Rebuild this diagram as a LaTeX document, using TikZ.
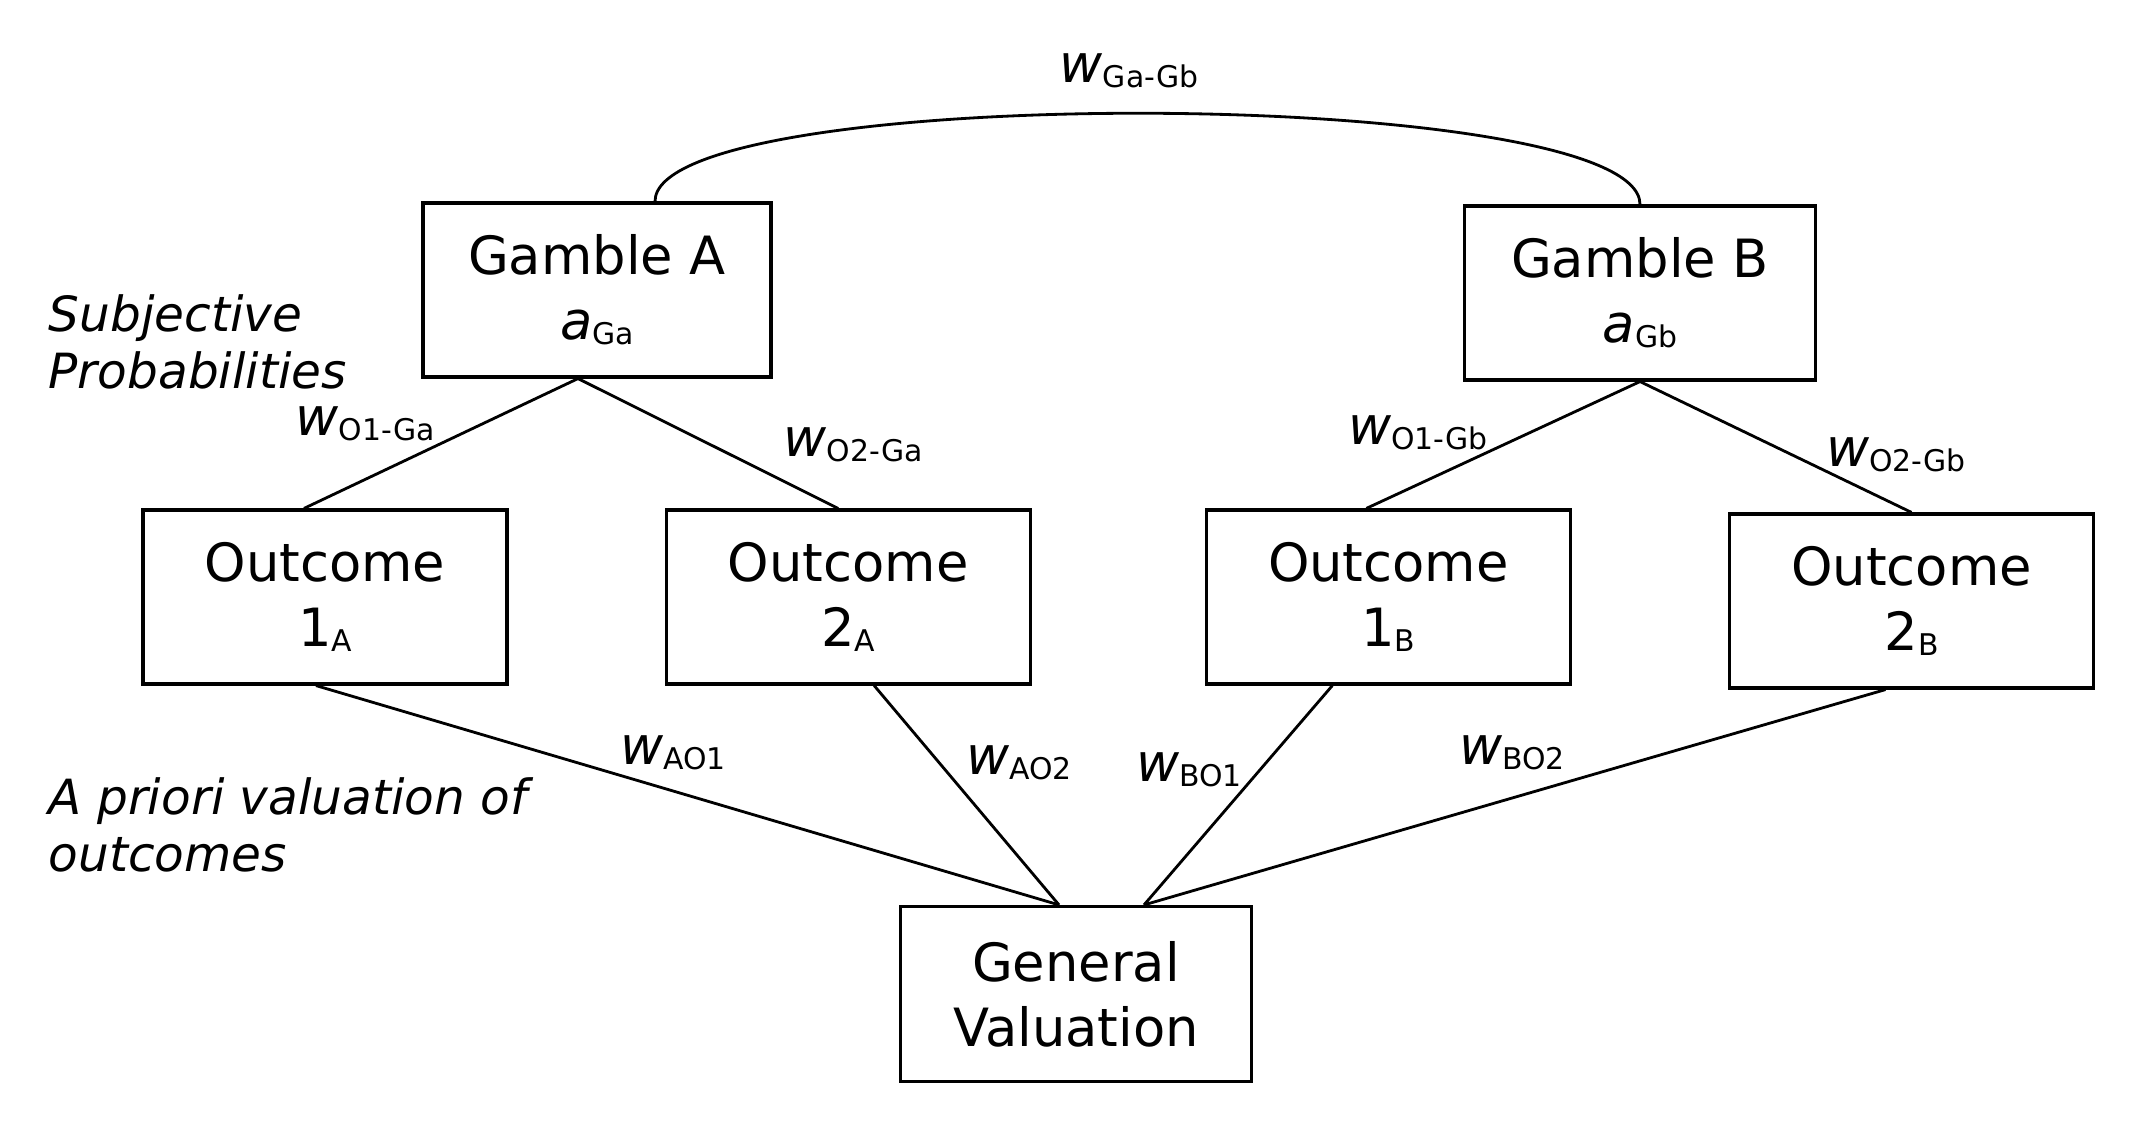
\documentclass[tikz,border=0pt]{standalone}
\usepackage{fontspec}
\setmainfont{DejaVu Sans}
\usepackage{tikz}
\usetikzlibrary{positioning}

\newcommand{\sbs}[1]{\raisebox{-1.5pt}{\fontsize{8.5}{10}\selectfont #1}}

\begin{document}
\begin{tikzpicture}[
    box/.style={
      rectangle,
      draw,
      line width=0.9pt,
      align=center,
      minimum width=3.5cm,
      minimum height=1.74cm,
      font=\fontsize{15}{18.5}\selectfont
    },
    outbox/.style={box, minimum width=3.64cm},
    wlabel/.style={font=\fontsize{15}{18}\selectfont, inner sep=0pt},
    note/.style={align=left, anchor=west, inner sep=0pt,
      font=\fontsize{13.8}{16.3}\selectfont\itshape},
    link/.style={line width=0.8pt}
  ]
    \useasboundingbox (0,0) rectangle (21.48,11.34);
    \node[box, minimum width=3.48cm] (ga) at (5.97,8.44) {Gamble A\\\textit{a}\sbs{Ga}};
    \node[box, minimum width=3.51cm] (gb) at (16.40,8.41) {Gamble B\\\textit{a}\sbs{Gb}};
    \node[outbox] (o1a) at (3.25,5.37) {Outcome\\1\sbs{A}};
    \node[outbox, right=1.56cm of o1a] (o2a) {Outcome\\2\sbs{A}};
    \node[outbox, right=1.73cm of o2a] (o1b) {Outcome\\1\sbs{B}};
    \node[outbox, right=1.56cm of o1b, yshift=-0.04cm] (o2b) {Outcome\\2\sbs{B}};
    \node[box, minimum width=3.51cm, minimum height=1.75cm] (gv) at (10.76,1.40) {General\\Valuation};
    \coordinate (gvl) at ([xshift=-0.17cm]gv.north);
    \coordinate (gvr) at ([xshift=0.68cm]gv.north);

    \node[note] (subj) at (0.48,7.92) {Subjective\\Probabilities};
    \node[note] (apriori) at (0.48,3.09) {A priori valuation of\\outcomes};

    \node[wlabel] (wgg) at (11.29,10.63) {\textit{w}\sbs{Ga-Gb}};
    \node[wlabel] (wo1ga) at (3.65,7.10) {\textit{w}\sbs{O1-Ga}};
    \node[wlabel] (wo2ga) at (8.53,6.89) {\textit{w}\sbs{O2-Ga}};
    \node[wlabel] (wo1gb) at (14.18,7.01) {\textit{w}\sbs{O1-Gb}};
    \node[wlabel] (wo2gb) at (18.96,6.79) {\textit{w}\sbs{O2-Gb}};
    \node[wlabel] (wao1) at (6.73,3.81) {\textit{w}\sbs{AO1}};
    \node[wlabel] (wao2) at (10.19,3.71) {\textit{w}\sbs{AO2}};
    \node[wlabel] (wbo1) at (11.89,3.64) {\textit{w}\sbs{BO1}};
    \node[wlabel] (wbo2) at (15.12,3.81) {\textit{w}\sbs{BO2}};

    \begin{scope}[link]
      \draw ([xshift=0.58cm]ga.north) to[out=90, in=90, looseness=0.31] (gb.north);
      \draw ([xshift=-0.19cm]ga.south) -- ([xshift=-0.21cm]o1a.north);
      \draw ([xshift=-0.19cm]ga.south) -- ([xshift=-0.10cm]o2a.north);
      \draw (gb.south) -- ([xshift=-0.22cm]o1b.north);
      \draw (gb.south) -- (o2b.north);
      \draw ([xshift=-0.09cm]o1a.south) -- (gvl);
      \draw ([xshift=0.26cm]o2a.south)  -- (gvl);
      \draw ([xshift=-0.56cm]o1b.south) -- (gvr);
      \draw ([xshift=-0.26cm]o2b.south) -- (gvr);
    \end{scope}
  \end{tikzpicture}
\end{document}
